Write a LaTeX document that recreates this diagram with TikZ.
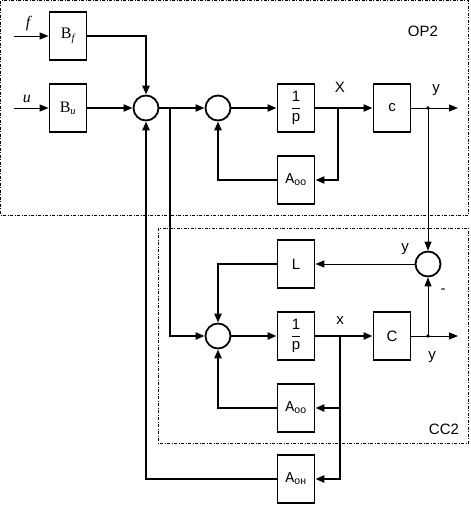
\documentclass[tikz,border=0pt]{standalone}
\usepackage{amsmath}
\usepackage{fontspec}
\setmainfont{Liberation Sans}
\newfontfamily\serf{Liberation Serif}
\newfontfamily\monof{Liberation Mono}
\usepackage{tikz}
\usetikzlibrary{arrows.meta,calc,positioning}

\begin{document}
\begin{tikzpicture}[x=1pt,y=-1pt,>={Triangle[length=9pt,width=7pt]},
  blk/.style={draw,line width=1.8pt,minimum width=37pt,minimum height=48pt,inner sep=0pt,font=\fontsize{15}{18}\selectfont},
  summ/.style={draw,circle,line width=1.8pt,minimum size=25pt,inner sep=0pt},
  lnk/.style={line width=2.4pt},
  thn/.style={line width=1pt},
  frm/.style={line width=1pt,dash pattern=on 3pt off 1.5pt on 1pt off 1.5pt},
  lbl/.style={inner sep=0pt,font=\fontsize{15}{18}\selectfont}]
\useasboundingbox (0,0) rectangle (471,512);
\draw[frm] (0.5,0.5) rectangle (468.5,215);
\draw[frm] (158,228) rectangle (468.5,443);
\node[lbl] (op) at (423,31) {OP2};
\node[lbl] (cc) at (444,429) {CC2};

\node[blk] (Bf) at (68,36) {{\serf\fontsize{16}{18}\selectfont B}\textsubscript{\serf\itshape f}};
\node[blk] (Bu) at (68,108) {{\serf\fontsize{16}{18}\selectfont B}\textsubscript{\serf\itshape u}};
\node[summ] (S1) at (146,108) {};
\node[summ] (S2) at (218,108) {};
\node[blk] (P1) at (296,108) {$\dfrac{\text{1}}{\text{p}}$};
\node[blk] (Cb) at (392,108) {c};
\node[blk] (Ao1) at (296,180) {{\monof A}\textsubscript{оо}};
\node[summ] (S4) at (428,264) {};
\node[blk] (L) at (296,264) {L};
\node[summ] (S3) at (218,336) {};
\node[blk] (P2) at (296,336) {$\dfrac{\text{1}}{\text{p}}$};
\node[blk] (Cc) at (392,336) {C};
\node[blk] (Ao2) at (296,408) {{\monof A}\textsubscript{оо}};
\node[blk] (Ah) at (296,479) {{\monof A}\textsubscript{он}};

\coordinate (fin) at (14,36);
\coordinate (uin) at (14,108);
\coordinate (br) at (170,108);
\coordinate (xb1) at (338,108);
\coordinate (xb2) at (340,336);
\coordinate (yd1) at (428,108);
\coordinate (yd2) at (428,336);
\coordinate (yo1) at (458,108);
\coordinate (yo2) at (458,336);

\node[lbl,font=\serf\itshape\fontsize{16}{18}\selectfont] (f) at (28,24) {f};
\node[lbl,font=\serf\itshape\fontsize{16}{18}\selectfont] (u) at (27,99) {u};
\node[lbl] (X) at (340,87) {X};
\node[lbl] (x) at (340,321) {x};
\node[lbl] (y1) at (436,90) {y};
\node[lbl] (y2) at (405,249) {y};
\node[lbl] (y3) at (432,357) {y};
\node[lbl] (mn) at (443,291) {-};

\draw[thn,->] (fin) -- (Bf.west);
\draw[thn,->] (uin) -- (Bu.west);
\draw[lnk,->] (Bf.east) -| (S1.north);
\draw[lnk,->] (Bu.east) -- (S1.west);
\draw[lnk,->] (S1.east) -- (S2.west);
\draw[lnk,->] (S2.east) -- (P1.west);
\draw[lnk,->] (P1.east) -- (Cb.west);
\draw[lnk,->] (xb1) |- (Ao1.east);
\draw[lnk,->] (Ao1.west) -| (S2.south);
\draw[thn,->] (Cb.east) -- (yo1);
\draw[thn,->] (yd1) -- (S4.north);
\draw[thn,->] (S4.west) -- (L.east);
\draw[lnk,->] (L.west) -| (S3.north);
\draw[lnk,->] (br) |- (S3.west);
\draw[lnk,->] (S3.east) -- (P2.west);
\draw[lnk,->] (P2.east) -- (Cc.west);
\draw[lnk,->] (xb2) |- (Ah.east);
\draw[lnk,->] (Ao2.east -| xb2) -- (Ao2.east);
\draw[lnk,->] (Ao2.west) -| (S3.south);
\draw[lnk,->] (Ah.west) -| (S1.south);
\draw[thn,->] (Cc.east) -- (yo2);
\draw[thn,->] (yd2) -- (S4.south);
\fill (yd1) circle (1.8pt) (yd2) circle (1.8pt);
\end{tikzpicture}
\end{document}
